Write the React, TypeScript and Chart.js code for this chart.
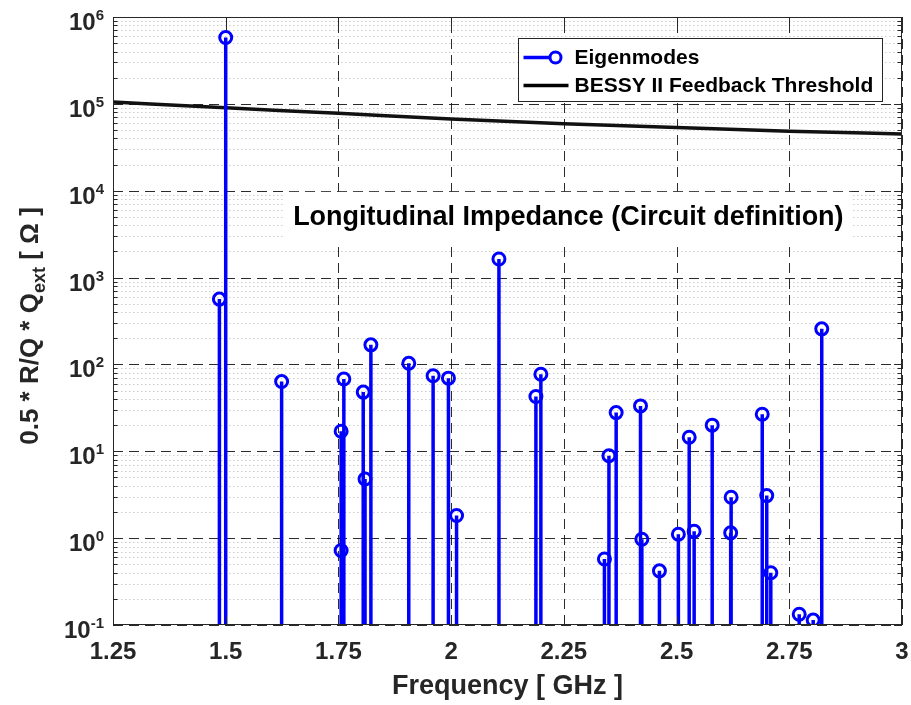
import React, { useEffect, useRef } from "react";
import { Chart, registerables } from "chart.js";

Chart.register(...registerables);

// ---------- data ----------
const modeFreqGHz = [
  1.486, 1.5, 1.624, 1.756, 1.756, 1.762, 1.805, 1.809, 1.822, 1.906, 1.96, 1.994,
  2.012, 2.106, 2.188, 2.199, 2.34, 2.35, 2.366, 2.42, 2.423, 2.462, 2.504, 2.528,
  2.539, 2.579, 2.62, 2.621, 2.69, 2.7, 2.709, 2.772, 2.803, 2.822,
];
const modeImpedanceOhm = [
  565, 580000, 63.5, 0.72, 17, 68, 48, 4.8, 168, 103, 74, 69.5,
  1.82, 1634, 42.7, 77, 0.575, 8.9, 27.9, 33.3, 0.97, 0.42, 1.11, 14.5,
  1.2, 20, 1.15, 2.96, 26.7, 3.09, 0.4, 0.133, 0.114, 257,
];
const thresholdFreqGHz = [1.25, 1.5, 1.75, 2, 2.25, 2.5, 2.75, 3];
const thresholdImpedanceOhm = [105000, 90000, 78000, 67000, 59000, 53500, 48500, 45000];

const xTickValues = [1.25, 1.5, 1.75, 2, 2.25, 2.5, 2.75, 3];
const xTickLabels = ["1.25", "1.5", "1.75", "2", "2.25", "2.5", "2.75", "3"];
const yDecadeExponents = [-1, 0, 1, 2, 3, 4, 5, 6];
const yTickSuperscripts = ["-1", "0", "1", "2", "3", "4", "5", "6"];
const legendLabels = ["Eigenmodes", "BESSY II Feedback Threshold"];
const titleText = "Longitudinal Impedance (Circuit definition)";
const titleAnchor = { x: 2.26, y: 5000 };
const xAxisTitle = "Frequency [ GHz ]";
const yAxisTitleParts = ["0.5 * R/Q * Q", "ext", " [ \u03A9 ]"];

const Y_MIN = 0.1;
const Y_MAX = 1e6;

// ---------- styles ----------
const FONT = '"Liberation Sans", Arial, Helvetica, sans-serif';
const BLUE = "#0000ff";
const AXIS = "#262626";

function line(ctx: CanvasRenderingContext2D, x1: number, y1: number, x2: number, y2: number) {
  ctx.beginPath();
  ctx.moveTo(x1, y1);
  ctx.lineTo(x2, y2);
  ctx.stroke();
}

const decorPlugin = {
  id: "decor",
  beforeDatasetsDraw(chart: any) {
    const { ctx, chartArea: a, scales } = chart;
    const x = scales.x;
    const y = scales.y;
    ctx.save();
    // minor y grid (dotted)
    ctx.lineWidth = 1;
    ctx.strokeStyle = "rgba(0,0,0,0.2)";
    ctx.setLineDash([1.5, 2.5]);
    for (let d = -1; d < 6; d++) {
      for (let k = 2; k <= 9; k++) {
        const py = Math.round(y.getPixelForValue(k * Math.pow(10, d))) + 0.5;
        line(ctx, a.left, py, a.right, py);
      }
    }
    // major grid (dashed)
    ctx.strokeStyle = "rgba(20,20,20,0.9)";
    ctx.setLineDash([10, 6]);
    xTickValues.forEach((v) => {
      const px = Math.round(x.getPixelForValue(v)) + 0.5;
      line(ctx, px, a.bottom, px, a.top);
    });
    yDecadeExponents.forEach((e) => {
      const py = Math.round(y.getPixelForValue(Math.pow(10, e))) + 0.5;
      line(ctx, a.left, py, a.right, py);
    });
    ctx.setLineDash([]);

    // title with white background box
    ctx.font = `bold 27px ${FONT}`;
    const tw = ctx.measureText(titleText).width;
    const cx = x.getPixelForValue(titleAnchor.x);
    const cy = y.getPixelForValue(titleAnchor.y);
    ctx.fillStyle = "#ffffff";
    ctx.fillRect(cx - tw / 2 - 10, cy - 25, tw + 18, 50);
    ctx.fillStyle = "#000000";
    ctx.textAlign = "center";
    ctx.textBaseline = "middle";
    ctx.fillText(titleText, cx, cy + 1);
    ctx.restore();
  },
  afterDatasetsDraw(chart: any) {
    const { ctx, chartArea: a, scales } = chart;
    const x = scales.x;
    const y = scales.y;
    ctx.save();
    ctx.setLineDash([]);
    ctx.strokeStyle = AXIS;
    ctx.lineWidth = 1;
    // inner tick marks
    xTickValues.forEach((v) => {
      const px = Math.round(x.getPixelForValue(v)) + 0.5;
      line(ctx, px, a.bottom, px, a.bottom - 8);
      line(ctx, px, a.top, px, a.top + 8);
    });
    for (let d = -1; d <= 6; d++) {
      const py = Math.round(y.getPixelForValue(Math.pow(10, d))) + 0.5;
      line(ctx, a.left, py, a.left + 8, py);
      line(ctx, a.right, py, a.right - 8, py);
      if (d < 6) {
        for (let k = 2; k <= 9; k++) {
          const pm = Math.round(y.getPixelForValue(k * Math.pow(10, d))) + 0.5;
          line(ctx, a.left, pm, a.left + 4.5, pm);
          line(ctx, a.right, pm, a.right - 4.5, pm);
        }
      }
    }
    // axes box
    ctx.strokeRect(Math.round(a.left) + 0.5, Math.round(a.top) + 0.5, Math.round(a.right - a.left) - 1, Math.round(a.bottom - a.top) - 1);

    // y tick labels: 10^n
    ctx.fillStyle = AXIS;
    ctx.textBaseline = "alphabetic";
    ctx.textAlign = "left";
    yDecadeExponents.forEach((e, i) => {
      const py = y.getPixelForValue(Math.pow(10, e));
      const sup = yTickSuperscripts[i];
      ctx.font = `bold 15px ${FONT}`;
      const sw = ctx.measureText(sup).width;
      ctx.font = `bold 24px ${FONT}`;
      const bw = ctx.measureText("10").width;
      const right = a.left - 9;
      ctx.fillText("10", right - sw - bw, py + 13);
      ctx.font = `bold 15px ${FONT}`;
      ctx.fillText(sup, right - sw, py + 3);
    });

    // y axis title (rotated, with subscript)
    const cyT = (a.top + a.bottom) / 2 + 5;
    ctx.font = `bold 26px ${FONT}`;
    const w1 = ctx.measureText(yAxisTitleParts[0]).width;
    const w3 = ctx.measureText(yAxisTitleParts[2]).width;
    ctx.font = `bold 18px ${FONT}`;
    const w2 = ctx.measureText(yAxisTitleParts[1]).width;
    const W = w1 + w2 + w3;
    ctx.translate(38, cyT);
    ctx.rotate(-Math.PI / 2);
    ctx.fillStyle = AXIS;
    ctx.font = `bold 26px ${FONT}`;
    ctx.fillText(yAxisTitleParts[0], -W / 2, 0);
    ctx.font = `bold 18px ${FONT}`;
    ctx.fillText(yAxisTitleParts[1], -W / 2 + w1, 7);
    ctx.font = `bold 26px ${FONT}`;
    ctx.fillText(yAxisTitleParts[2], -W / 2 + w1 + w2, 0);
    ctx.setTransform(1, 0, 0, 1, 0, 0);

    // legend
    const lw = 364;
    const lh = 63;
    const lx = Math.round(a.right - 20 - lw) + 0.5;
    const ly = Math.round(a.top + 21) + 0.5;
    ctx.fillStyle = "#ffffff";
    ctx.fillRect(lx, ly, lw, lh);
    ctx.strokeStyle = AXIS;
    ctx.lineWidth = 1;
    ctx.strokeRect(lx, ly, lw, lh);
    const r1 = ly + 19;
    const r2 = ly + 47;
    ctx.strokeStyle = BLUE;
    ctx.lineWidth = 3.5;
    line(ctx, lx + 5, r1, lx + 32, r1);
    ctx.lineWidth = 3;
    ctx.beginPath();
    ctx.arc(lx + 37, r1, 5.5, 0, Math.PI * 2);
    ctx.stroke();
    ctx.strokeStyle = "#000000";
    ctx.lineWidth = 3.5;
    line(ctx, lx + 5, r2, lx + 50, r2);
    ctx.fillStyle = "#000000";
    ctx.font = `bold 21px ${FONT}`;
    ctx.textAlign = "left";
    ctx.textBaseline = "middle";
    ctx.fillText(legendLabels[0], lx + 56, r1 + 1);
    ctx.fillText(legendLabels[1], lx + 56, r2 + 1);
    ctx.restore();
  },
};

export default function App() {
  const canvasRef = useRef<HTMLCanvasElement | null>(null);

  useEffect(() => {
    const canvas = canvasRef.current;
    if (!canvas) return;

    const stemData: any[] = [];
    modeFreqGHz.forEach((f, i) => {
      stemData.push({ x: f, y: Y_MIN });
      stemData.push({ x: f, y: modeImpedanceOhm[i] });
      stemData.push({ x: f, y: null });
    });
    const thresholdData = thresholdFreqGHz.map((f, i) => ({ x: f, y: thresholdImpedanceOhm[i] }));

    const chart = new Chart(canvas, {
      type: "line",
      data: {
        datasets: [
          {
            label: legendLabels[0],
            data: stemData,
            borderColor: BLUE,
            borderWidth: 3.5,
            spanGaps: false,
            pointRadius: (c: any) => (c.dataIndex % 3 === 1 ? 6 : 0),
            pointHoverRadius: (c: any) => (c.dataIndex % 3 === 1 ? 6 : 0),
            pointBorderWidth: 3,
            pointBorderColor: BLUE,
            pointBackgroundColor: "rgba(0,0,0,0)",
            pointStyle: "circle",
            tension: 0,
          },
          {
            label: legendLabels[1],
            data: thresholdData,
            borderColor: "#111111",
            borderWidth: 3.5,
            pointRadius: 0,
            cubicInterpolationMode: "monotone",
          },
        ],
      } as any,
      options: {
        responsive: false,
        animation: false,
        events: [],
        layout: { padding: { top: 17, right: 9, left: 0, bottom: 0 } },
        plugins: {
          legend: { display: false },
          tooltip: { enabled: false },
          title: { display: false },
        },
        scales: {
          x: {
            type: "linear",
            min: 1.25,
            max: 3,
            afterBuildTicks: (s: any) => {
              s.ticks = xTickValues.map((v) => ({ value: v }));
            },
            afterFit: (s: any) => {
              s.height = 80;
              s.paddingLeft = 0;
              s.paddingRight = 0;
            },
            grid: { display: false, drawTicks: false },
            border: { display: false },
            ticks: {
              padding: 13,
              maxRotation: 0,
              autoSkip: false,
              color: AXIS,
              font: { family: FONT, size: 24, weight: "bold" },
              callback: (_v: any, i: number) => xTickLabels[i],
            },
            title: {
              display: true,
              text: xAxisTitle,
              color: AXIS,
              font: { family: FONT, size: 27, weight: "bold" },
              padding: { top: 0, bottom: 2 },
            },
          },
          y: {
            type: "logarithmic",
            min: Y_MIN,
            max: Y_MAX,
            afterFit: (s: any) => {
              s.width = 113;
              s.paddingTop = 0;
              s.paddingBottom = 0;
            },
            grid: { display: false, drawTicks: false },
            border: { display: false },
            ticks: { display: false },
          },
        },
      } as any,
      plugins: [decorPlugin],
    });

    return () => chart.destroy();
  }, []);

  return (
    <div style={{ position: "fixed", left: 0, top: 0, width: 911, height: 705, background: "#ffffff" }}>
      <canvas ref={canvasRef} width={911} height={705} style={{ display: "block" }} />
    </div>
  );
}
